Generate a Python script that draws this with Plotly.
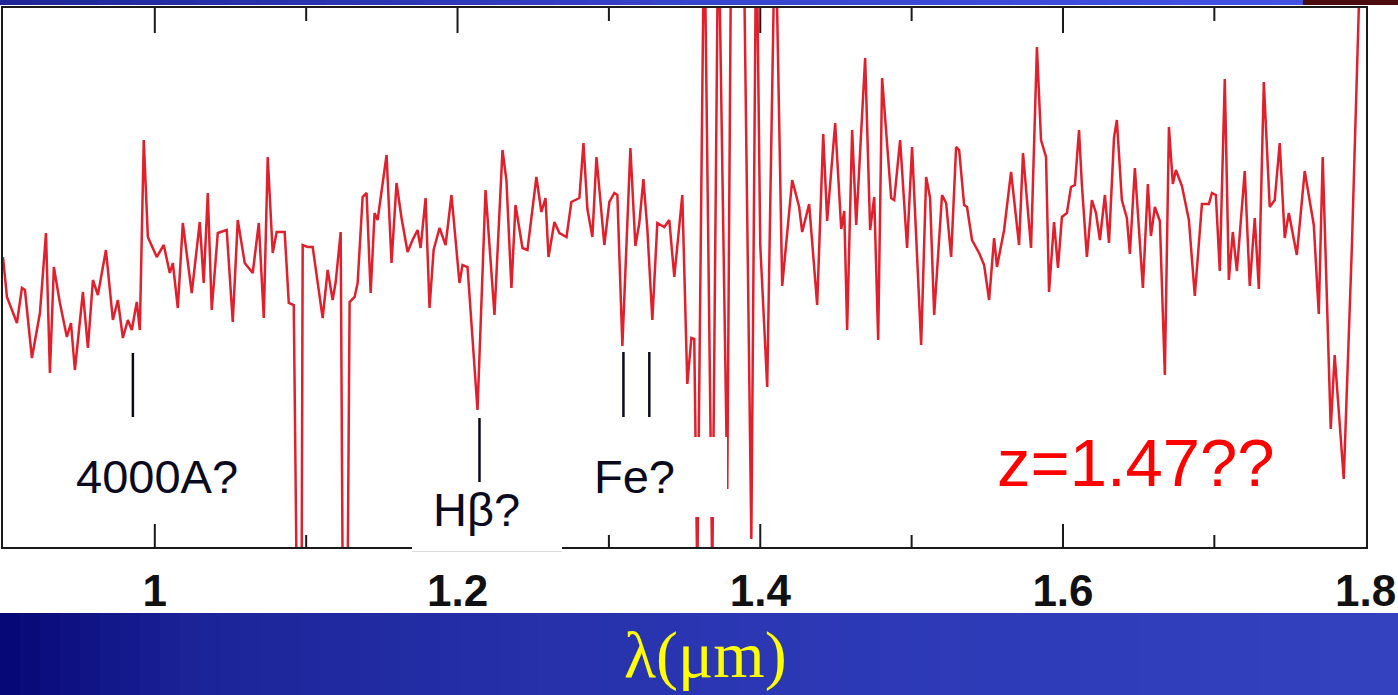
import plotly.graph_objects as go

# ---------------- data ----------------
wavelength_um = [
    0.8997, 0.9023, 0.9089, 0.9122, 0.9142, 0.9188, 0.9241, 0.9281, 0.9307, 0.9333,
    0.9373, 0.9419, 0.9446, 0.9472, 0.9525, 0.9558, 0.9591, 0.9624, 0.9677, 0.9723,
    0.9756, 0.9789, 0.9822, 0.9848, 0.9881, 0.9901, 0.9927, 0.9954, 1.0013, 1.0059,
    1.0099, 1.0119, 1.0152, 1.0185, 1.0244, 1.0297, 1.0323, 1.0350, 1.0376, 1.0416,
    1.0475, 1.0515, 1.0548, 1.0594, 1.0647, 1.0687, 1.0720, 1.0746, 1.0779, 1.0805,
    1.0858,
    1.0885, 1.0918, 1.0937, 1.0970, 1.0977, 1.1010, 1.1043, 1.1109, 1.1142, 1.1175,
    1.1195, 1.1228, 1.1241, 1.1274, 1.1287, 1.1320, 1.1340, 1.1373, 1.1399, 1.1426,
    1.1452, 1.1472, 1.1531, 1.1564, 1.1597, 1.1630, 1.1670, 1.1703, 1.1736, 1.1756,
    1.1789, 1.1815, 1.1842, 1.1881, 1.1921, 1.1960, 1.1993, 1.2013, 1.2033, 1.2066,
    1.2132, 1.2185, 1.2244, 1.2297, 1.2323, 1.2356, 1.2383, 1.2429, 1.2462, 1.2521,
    1.2554, 1.2581, 1.2601, 1.2640, 1.2673,
    1.2720, 1.2752, 1.2805, 1.2832, 1.2858, 1.2891, 1.2918, 1.2970, 1.3003, 1.3036,
    1.3056, 1.3089, 1.3142, 1.3175, 1.3201, 1.3228, 1.3254, 1.3287, 1.3320, 1.3366,
    1.3399, 1.3432, 1.3485, 1.3518, 1.3545, 1.3564, 1.3584, 1.3630, 1.3683, 1.3723,
    1.3782, 1.3809, 1.3888, 1.3941, 1.3974, 1.4000, 1.4046, 1.4099, 1.4145, 1.4211,
    1.4257, 1.4277, 1.4323, 1.4376, 1.4416, 1.4442, 1.4495, 1.4535, 1.4555,
    1.4574, 1.4607, 1.4634, 1.4693, 1.4726, 1.4753, 1.4779, 1.4805, 1.4865, 1.4885,
    1.4924, 1.4970, 1.5003, 1.5063, 1.5096, 1.5122, 1.5149, 1.5201, 1.5228, 1.5261,
    1.5294, 1.5314, 1.5347, 1.5366, 1.5399, 1.5446, 1.5479, 1.5512, 1.5545, 1.5564,
    1.5611, 1.5657, 1.5710, 1.5736, 1.5789, 1.5828, 1.5855, 1.5888, 1.5908, 1.5941,
    1.5967, 1.5993, 1.6026, 1.6053, 1.6079, 1.6106, 1.6125, 1.6158, 1.6191, 1.6218,
    1.6244, 1.6277, 1.6304,
    1.6337, 1.6356, 1.6389, 1.6422, 1.6442, 1.6475, 1.6528, 1.6561, 1.6581, 1.6607,
    1.6640, 1.6673, 1.6700, 1.6726, 1.6746, 1.6786, 1.6832, 1.6871, 1.6918, 1.6964,
    1.6984, 1.7010, 1.7036, 1.7069, 1.7096, 1.7122, 1.7149, 1.7201, 1.7234, 1.7267,
    1.7294, 1.7327, 1.7366, 1.7399, 1.7432, 1.7465, 1.7492, 1.7545, 1.7597, 1.7657,
    1.7690, 1.7716, 1.7769, 1.7795, 1.7855, 1.7908, 1.7954, 1.7974,
]

flux_arb = [
    290, 250, 224, 259, 257, 189, 234, 314, 174, 280,
    244, 210, 224, 177, 255, 199, 267, 252, 297, 227,
    247, 209, 227, 217, 245, 217, 407, 310, 290, 302,
    274, 284, 239, 324, 254, 325, 264, 354, 237, 314,
    317, 225, 327, 284, 274, 324, 229, 390, 294, 315,
    315,
    244, 242, -30, -30, 302, 300, 300, 229, 277, 247,
    265, 315, -30, -30, 245, 250, 264, 350, 354, 254,
    334, 327, 392, 284, 364, 329, 295, 307, 317, 299,
    349, 239, 297, 319, 302, 352, 300, 264, 282, 280,
    137, 357, 232, 397, 367, 259, 342, 299, 297, 370,
    335, 349, 290, 325, 314,
    310, 345, 349, 404, 338, 310, 390, 302, 345, 354,
    352, 201, 399, 301, 324, 368, 318, 227, 324, 320,
    327, 270, 352, 163, 209, 208, -30, 640, -30, 640,
    58, 640, 640, 8, 640, 302, 160, 640, 261, 367,
    340, 315, 343, 242, 413, 326, 424, 318, 336,
    217, 417, 322, 489, 317, 350, 207, 469, 349, 347,
    407, 299, 400, 202, 370, 349, 232, 352, 344, 290,
    400, 397, 342, 340, 307, 294, 282, 247, 309, 280,
    317, 375, 302, 394, 299, 500, 407, 390, 255, 325,
    279, 330, 334, 360, 362, 417, 362, 290, 347, 334,
    307, 352, 304,
    409, 427, 347, 329, 293, 379, 259, 363, 311, 340,
    326, 172, 420, 363, 377, 361, 327, 251, 343, 343,
    354, 352, 276, 468, 267, 315, 276, 376, 261, 329,
    258, 465, 340, 347, 404, 309, 334, 292, 376, 322,
    233, 390, 118, 192, 68, 297, 536, 640,
]
assert len(wavelength_um) == len(flux_arb)

tick_vals = [1.0, 1.2, 1.4, 1.6, 1.8]
tick_text = ["1", "1.2", "1.4", "1.6", "1.8"]
minor_tick_vals = [1.1, 1.3, 1.5, 1.7]

line_ids_x = [0.9855, 1.2145, 1.3096, 1.3267]
line_ids_y0 = [130, 65, 130, 130]
line_ids_y1 = [194, 129, 195, 195]

label_text = ["4000A?", "Hβ?", "Fe?"]
label_x = [1.0013, 1.2126, 1.3168]
label_y = [71, 38, 71]

redshift_text = "z=1.47??"
axis_title = "λ(μm)"

# ---------------- figure ----------------
W, H = 1398, 695
L, R, T, B = 3, 1366, 8, 547   # plot area in pixels
X_RANGE = [0.8997, 1.8002]


def px_x(px):
    return (px - L) / (R - L)


def px_y(py):
    return (B - py) / (B - T)


def lerp_color(stops, px):
    for (x0, c0), (x1, c1) in zip(stops, stops[1:]):
        if x0 <= px <= x1:
            t = (px - x0) / (x1 - x0)
            return "rgb(%d,%d,%d)" % tuple(round(a + (b - a) * t) for a, b in zip(c0, c1))
    return "rgb(%d,%d,%d)" % stops[-1][1]


fig = go.Figure()
fig.add_trace(go.Scatter(
    x=wavelength_um, y=flux_arb, mode="lines",
    line=dict(color="#e0202c", width=2.5),
    hoverinfo="skip", showlegend=False,
))

shapes = []
# bottom blue band (gradient approximated with strips)
band_stops = [(0, (6, 6, 118)), (200, (28, 36, 152)), (700, (42, 54, 178)), (1398, (52, 66, 192))]
n = 70
for i in range(n):
    a = i * W / n
    b = (i + 1) * W / n + 1
    shapes.append(dict(type="rect", xref="paper", yref="paper",
                       x0=px_x(a), x1=px_x(b), y0=px_y(696), y1=px_y(613),
                       fillcolor=lerp_color(band_stops, (a + b) / 2), line=dict(width=0),
                       layer="above"))
# top strip
top_stops = [(0, (30, 38, 150)), (700, (55, 68, 205)), (1303, (68, 82, 228))]
n2 = 40
for i in range(n2):
    a = i * 1303 / n2
    b = (i + 1) * 1303 / n2 + 1
    shapes.append(dict(type="rect", xref="paper", yref="paper",
                       x0=px_x(a), x1=px_x(b), y0=px_y(5), y1=px_y(0),
                       fillcolor=lerp_color(top_stops, (a + b) / 2), line=dict(width=0),
                       layer="above"))
shapes.append(dict(type="rect", xref="paper", yref="paper",
                   x0=px_x(1303), x1=px_x(1398), y0=px_y(5), y1=px_y(0),
                   fillcolor="#4a0c10", line=dict(width=0), layer="above"))

# axis ticks (inside, bottom and top)
for xv in tick_vals[:-1]:
    shapes.append(dict(type="line", xref="x", yref="paper", x0=xv, x1=xv,
                       y0=0, y1=px_y(B - 23), line=dict(color="#1a1a1a", width=2), layer="above"))
    shapes.append(dict(type="line", xref="x", yref="paper", x0=xv, x1=xv,
                       y0=1, y1=px_y(T + 25), line=dict(color="#1a1a1a", width=2), layer="above"))
for xv in minor_tick_vals:
    shapes.append(dict(type="line", xref="x", yref="paper", x0=xv, x1=xv,
                       y0=0, y1=px_y(B - 12), line=dict(color="#1a1a1a", width=2), layer="above"))
    shapes.append(dict(type="line", xref="x", yref="paper", x0=xv, x1=xv,
                       y0=1, y1=px_y(T + 13), line=dict(color="#1a1a1a", width=2), layer="above"))

# white label boxes pasted over the plot
shapes.append(dict(type="rect", xref="paper", yref="paper",
                   x0=px_x(412), x1=px_x(562), y0=px_y(552), y1=px_y(487),
                   fillcolor="white", line=dict(width=0), layer="above"))
shapes.append(dict(type="line", xref="paper", yref="paper",
                   x0=px_x(412), x1=px_x(562), y0=px_y(551.5), y1=px_y(551.5),
                   line=dict(color="#dcdcdc", width=1), layer="above"))
shapes.append(dict(type="rect", xref="paper", yref="paper",
                   x0=px_x(590), x1=px_x(727), y0=px_y(517), y1=px_y(437),
                   fillcolor="white", line=dict(width=0), layer="above"))

# line identification ticks
for xv, y0, y1 in zip(line_ids_x, line_ids_y0, line_ids_y1):
    shapes.append(dict(type="line", xref="x", yref="y", x0=xv, x1=xv, y0=y0, y1=y1,
                       line=dict(color="#0a0a1e", width=2.5), layer="above"))

annotations = []
for t, xv, yv in zip(label_text, label_x, label_y):
    annotations.append(dict(text=t, x=xv, y=yv, xref="x", yref="y", showarrow=False,
                            xanchor="center", yanchor="middle",
                            font=dict(family="Liberation Sans, Arial", size=47, color="#0a0a1e")))
annotations.append(dict(text=redshift_text, x=1.6482, y=85, xref="x", yref="y", showarrow=False,
                        xanchor="center", yanchor="middle",
                        font=dict(family="Liberation Sans, Arial", size=67, color="#ff0000")))
annotations.append(dict(text=axis_title, x=px_x(705), y=px_y(655), xref="paper", yref="paper",
                        showarrow=False, xanchor="center", yanchor="middle",
                        font=dict(family="Liberation Serif, Times New Roman, serif", size=66,
                                  color="#ffff00")))

fig.update_layout(
    width=W, height=H, autosize=False,
    margin=dict(l=L, r=W - R, t=T, b=H - B, pad=0),
    paper_bgcolor="white", plot_bgcolor="white",
    shapes=shapes, annotations=annotations, showlegend=False,
    xaxis=dict(range=X_RANGE, showgrid=False, zeroline=False,
               showline=True, linecolor="#1a1a1a", linewidth=2, mirror=True,
               ticks="", tickmode="array", tickvals=tick_vals, ticktext=tick_text,
               tickfont=dict(family="Liberation Sans, Arial", size=44, color="#111111",
                             weight="bold"),
               ticklabelstandoff=4),
    yaxis=dict(range=[0, 539], showgrid=False, zeroline=False, showticklabels=False,
               showline=True, linecolor="#1a1a1a", linewidth=2, mirror=True, ticks=""),
)

fig.write_html("out.html")
